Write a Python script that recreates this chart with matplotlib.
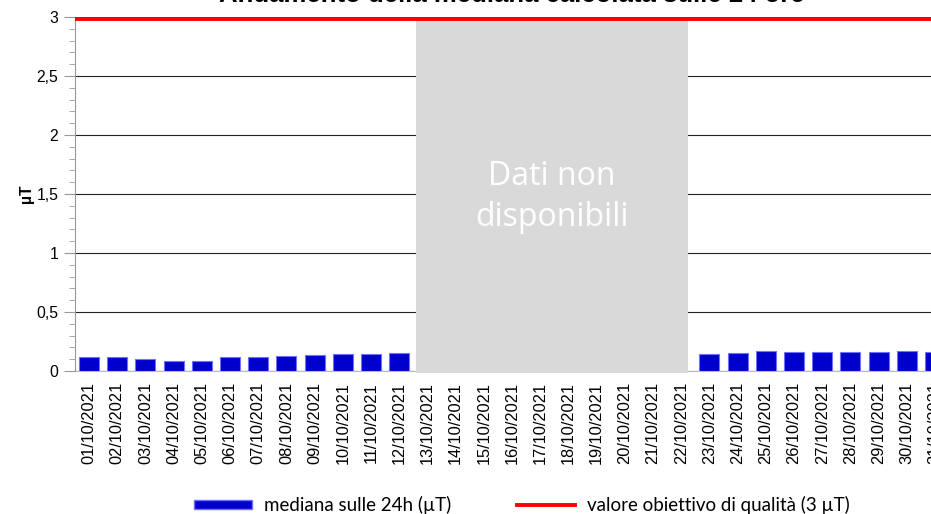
import numpy as np
import matplotlib.pyplot as plt
from matplotlib.ticker import MultipleLocator, FuncFormatter
from matplotlib.patches import Rectangle, Patch
from matplotlib.lines import Line2D

# dates of October 2021
dates = [f"{d:02d}/10/2021" for d in range(1, 32)]
# 24h median (uT); days 13-22 missing
median_24h = [0.116, 0.116, 0.100, 0.082, 0.082, 0.116, 0.116, 0.124, 0.136, 0.141,
              0.141, 0.153,
              np.nan, np.nan, np.nan, np.nan, np.nan, np.nan, np.nan, np.nan, np.nan, np.nan,
              0.141, 0.153, 0.172, 0.158, 0.158, 0.158, 0.158, 0.172, 0.158]
quality_target = 2.98
missing_from, missing_to = 11.6, 21.24

W, H = 931, 514
fig = plt.figure(figsize=(W / 100, H / 100), dpi=100)
ax = fig.add_axes([75 / W, 1 - 371 / H, (949 - 75) / W, (371 - 17) / H])

x = np.arange(len(dates))
ax.bar(x, median_24h, width=0.71, color="#0000CC", edgecolor="#7070ff", linewidth=0.8, zorder=3)

# grey box over missing days
ax.add_patch(Rectangle((missing_from, -0.018), missing_to - missing_from, 3.008,
                       facecolor="#D9D9D9", edgecolor="none", zorder=4, clip_on=False))
ax.text((missing_from + missing_to) / 2, 1.475, "Dati non\ndisponibili", color="white",
        ha="center", va="center", fontsize=23, family="Open Sans", linespacing=1.3, zorder=5)

ax.plot([-0.5, len(dates) - 0.5], [quality_target, quality_target], color="#FF0000",
        linewidth=2.8, zorder=6, solid_capstyle="butt", clip_on=False)

ax.set_xlim(-0.5, len(dates) - 0.5)
ax.set_ylim(0, 3)
ax.yaxis.set_major_locator(MultipleLocator(0.5))
ax.yaxis.set_minor_locator(MultipleLocator(0.1))
ax.yaxis.set_major_formatter(FuncFormatter(lambda v, p: f"{v:g}".replace(".", ",")))
ax.grid(axis="y", which="major", color="#222222", linewidth=0.8, zorder=0)
ax.set_axisbelow(True)

for s in ["top", "right"]:
    ax.spines[s].set_visible(False)
ax.spines["left"].set_color("#999999")
ax.spines["bottom"].set_color("#bbbbbb")
ax.spines["bottom"].set_zorder(2)

ax.set_xticks(x)
ax.set_xticklabels(dates, rotation=90, family="Liberation Sans", fontsize=11.8)
ax.tick_params(axis="x", length=0, pad=8)
ax.tick_params(axis="y", which="major", length=8, color="#999999", labelsize=11.3, pad=4)
ax.tick_params(axis="y", which="minor", length=4, color="#999999")
for lab in ax.get_yticklabels():
    lab.set_family("Liberation Sans")

ax.set_ylabel("µT", family="Liberation Sans", fontsize=11.3, fontweight="bold", labelpad=2)

fig.text(512 / W, 1 - 2 / H, "Andamento della mediana calcolata sulle 24 ore", ha="center",
         va="baseline", fontsize=18.5, fontweight="bold", family="Liberation Sans")

handles = [Patch(facecolor="#0000CC", edgecolor="#7070ff"),
           Line2D([], [], color="#FF0000", linewidth=2.8)]
labels = ["mediana sulle 24h (µT)", "valore obiettivo di qualità (3 µT)"]
fig.legend(handles, labels, loc="center", bbox_to_anchor=(522 / W, 1 - 505 / H), ncol=2,
           frameon=False, prop={"family": "Lato", "size": 13.5}, handlelength=3.1,
           handleheight=0.38, columnspacing=3.5, handletextpad=0.65)

fig.savefig("out.png", dpi=100)
